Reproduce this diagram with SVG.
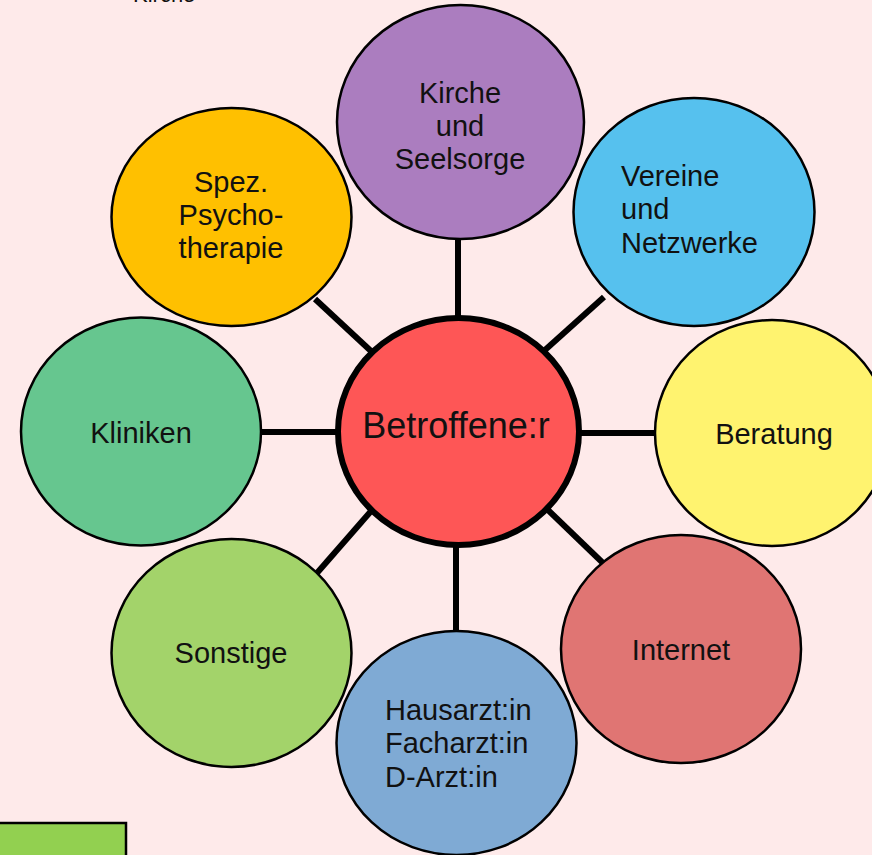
<svg xmlns="http://www.w3.org/2000/svg" width="872" height="855" viewBox="0 0 872 855">
<style>
.n{stroke:#000;stroke-width:2.5}
.t{font-family:"Liberation Sans",Arial,sans-serif;font-size:29px;fill:#111}
.c{text-anchor:middle}
.e{stroke:#000;stroke-width:6;fill:none}
</style>
<rect width="872" height="855" fill="#feeaea"/>
<text class="t" x="133" y="2" style="font-size:22px">Kirche</text>
<g id="connectors">
<line class="e" x1="458" y1="238" x2="458" y2="320"/>
<line class="e" x1="456" y1="544" x2="456" y2="633"/>
<line class="e" x1="260" y1="432" x2="338" y2="432"/>
<line class="e" x1="578" y1="433" x2="657" y2="433"/>
<line class="e" x1="315" y1="299" x2="372" y2="352"/>
<line class="e" x1="604" y1="297" x2="545" y2="350"/>
<line class="e" x1="317" y1="573" x2="372" y2="510"/>
<line class="e" x1="548" y1="510" x2="604" y2="564"/>
</g>
<g id="kirche">
<ellipse class="n" cx="460.5" cy="122" rx="123.5" ry="117" fill="#ab7dbf"/>
<text class="t c" x="460" y="103">Kirche</text>
<text class="t c" x="460" y="136">und</text>
<text class="t c" x="460" y="169">Seelsorge</text>
</g>
<g id="vereine">
<ellipse class="n" cx="694" cy="212" rx="120.5" ry="114" fill="#56c1ee"/>
<text class="t" x="621" y="186">Vereine</text>
<text class="t" x="621" y="219">und</text>
<text class="t" x="621" y="253">Netzwerke</text>
</g>
<g id="spez">
<ellipse class="n" cx="231.5" cy="217" rx="120" ry="109" fill="#ffc000"/>
<text class="t c" x="231" y="192">Spez.</text>
<text class="t c" x="231" y="225">Psycho-</text>
<text class="t c" x="231" y="258">therapie</text>
</g>
<g id="kliniken">
<ellipse class="n" cx="141" cy="431.5" rx="120" ry="114" fill="#66c68f"/>
<text class="t c" x="141" y="443">Kliniken</text>
</g>
<g id="beratung">
<ellipse class="n" cx="772" cy="433" rx="117" ry="113" fill="#fff36f"/>
<text class="t c" x="774" y="444">Beratung</text>
</g>
<g id="sonstige">
<ellipse class="n" cx="231.5" cy="653" rx="120" ry="114" fill="#a3d36a"/>
<text class="t c" x="231" y="663">Sonstige</text>
</g>
<g id="internet">
<ellipse class="n" cx="681" cy="649" rx="120" ry="114" fill="#e07573"/>
<text class="t c" x="681" y="660">Internet</text>
</g>
<g id="arzt">
<ellipse class="n" cx="456.5" cy="743" rx="120" ry="112" fill="#7faad4"/>
<text class="t" x="385" y="720">Hausarzt:in</text>
<text class="t" x="385" y="753">Facharzt:in</text>
<text class="t" x="385" y="787">D-Arzt:in</text>
</g>
<g id="betroffene">
<ellipse cx="458.5" cy="431.5" rx="120.5" ry="113.5" fill="#fe5656" stroke="#000" stroke-width="6"/>
<text class="t c" x="456" y="438" style="font-size:36px">Betroffene:r</text>
</g>
<rect x="-2" y="823" width="128" height="40" fill="#92d050" stroke="#000" stroke-width="2.5"/>
</svg>
